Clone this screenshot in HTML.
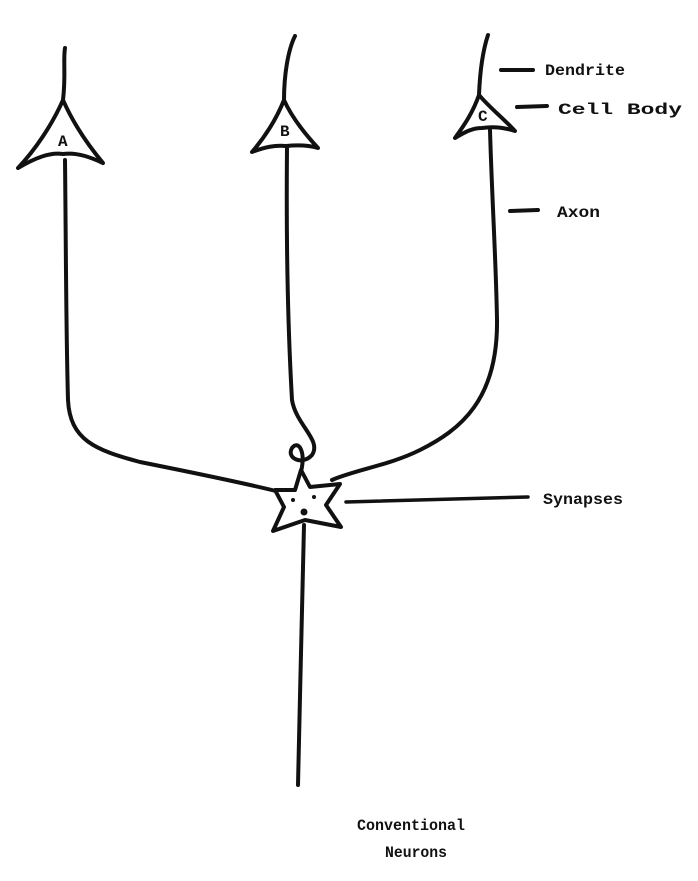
<!DOCTYPE html>
<html><head><style>
html,body{margin:0;padding:0;background:#fff;}
svg{display:block}
text{font-family:"Liberation Mono",monospace;font-weight:bold;font-size:16px;fill:#111}
</style></head><body>
<svg width="698" height="881" viewBox="0 0 698 881" xmlns="http://www.w3.org/2000/svg">
<g fill="none" stroke="#111" stroke-width="4" stroke-linecap="round" stroke-linejoin="round">
<path d="M65 48 C63 60 66 75 63 100"/>
<path d="M63 100 C52 125 35 150 18 168 C35 158 50 152 63 154 C78 152 92 158 103 163 C88 145 74 125 63 100 Z" fill="#fff"/>
<path d="M65 160 C66 250 66 330 68 400 C70 440 95 450 140 462 C190 472 240 482 280 492"/>
<path d="M295 36 C288 50 284 75 284 100"/>
<path d="M284 100 C276 120 264 138 252 152 C265 147 275 145 286 146 C296 145 308 145 318 148 C306 135 292 118 284 100 Z" fill="#fff"/>
<path d="M287 148 C286 250 288 330 292 400 C296 425 322 440 312 455 C302 466 286 458 292 448 C298 440 306 450 301 472"/>
<path d="M488 35 C483 50 480 70 479 95"/>
<path d="M479 95 C472 115 462 128 455 138 C465 132 472 128 482 128 C495 126 505 128 515 131 C503 118 490 108 479 95 Z" fill="#fff"/>
<path d="M490 130 C492 200 496 260 497 320 C498 400 460 430 420 450 C390 465 355 470 332 480"/>
<path d="M301 470 L310 487 L340 484 L326 505 L341 527 L305 520 L273 531 L284 507 L275 490 L295 490 Z" fill="#fff"/>
<path d="M304 525 C302 600 300 700 298 785"/>
<path d="M501 70 L533 70"/>
<path d="M517 107 L547 106"/>
<path d="M510 211 L538 210"/>
<path d="M346 502 L528 497" stroke-width="3.5"/>
</g>
<g fill="#111">
<circle cx="304" cy="512" r="3.5"/>
<circle cx="293" cy="500" r="2"/>
<circle cx="314" cy="497" r="2"/>
</g>
<text x="58" y="146" font-size="10">A</text>
<text x="280" y="136" font-size="12">B</text>
<text x="478" y="121" font-size="10">C</text>
<text x="545" y="75" textLength="80" lengthAdjust="spacingAndGlyphs">Dendrite</text>
<text x="558" y="114" textLength="124" lengthAdjust="spacingAndGlyphs">Cell Body</text>
<text x="557" y="217" textLength="43" lengthAdjust="spacingAndGlyphs">Axon</text>
<text x="543" y="504" textLength="80" lengthAdjust="spacingAndGlyphs">Synapses</text>
<text x="357" y="830" textLength="108" lengthAdjust="spacingAndGlyphs">Conventional</text>
<text x="385" y="857" textLength="62" lengthAdjust="spacingAndGlyphs">Neurons</text>
</svg>
</body></html>
